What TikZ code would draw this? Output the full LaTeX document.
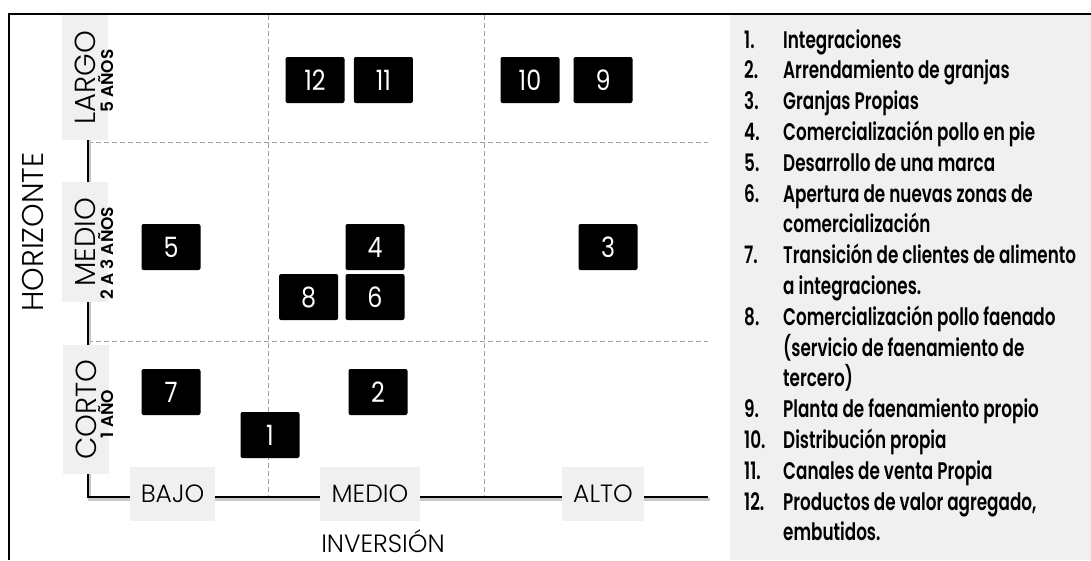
\documentclass[tikz,border=0pt]{standalone}
\usepackage{fontspec}
\setmainfont{Poppins}[UprightFont=* Light, BoldFont=* SemiBold]
\newfontfamily\narrowfont{Poppins}[UprightFont=* Light, BoldFont=* SemiBold, FakeStretch=0.7]
\newfontfamily\digitfont{Poppins}[FakeStretch=0.85]
\usetikzlibrary{positioning}
\definecolor{panelgray}{RGB}{240,240,240}
\definecolor{gridgray}{RGB}{160,160,160}

\begin{document}
\begin{tikzpicture}[
        x=1pt, y=-1pt,
        numbox/.style={
            rectangle, fill=black, rounded corners=2pt,
            minimum width=59pt, minimum height=46pt, inner sep=0pt,
            text=white, font=\digitfont\fontsize{28}{30}\selectfont
        },
        xlabel/.style={
            rectangle, fill=panelgray, minimum height=54pt, inner sep=0pt,
            font=\fontsize{25}{28}\selectfont
        },
        ylabel/.style={
            rectangle, fill=panelgray, rotate=90, minimum height=46pt, inner sep=0pt,
            font=\fontsize{29}{31}\selectfont
        },
        ysub/.style={rotate=90, inner sep=0pt, font=\bfseries\fontsize{17}{19}\selectfont},
        axisline/.style={line width=2.5pt},
        axisshade/.style={line width=2.5pt, draw=black!22},
        gridline/.style={draw=gridgray, line width=0.7pt, dash pattern=on 5pt off 3pt},
        legitem/.style={anchor=west, inner sep=0pt, text height=17pt, text depth=5pt,
            font=\narrowfont\bfseries\fontsize{24}{28}\selectfont}
    ]
    \useasboundingbox (0,0) rectangle (1091,560);

    % frame and legend panel
    \fill[panelgray] (730,15) rectangle (1091,560);
    \draw[line width=1.2pt] (9,560) -- (9,14) -- (1091,14);

    % grid
    \draw[gridline] (268,15) -- (268,500);
    \draw[gridline] (484,15) -- (484,500);
    \draw[gridline] (88,142) -- (708,142);
    \draw[gridline] (88,341) -- (708,341);

    % axes
    \coordinate (ytop) at (88,120);
    \coordinate (corner) at (88,497);
    \coordinate (xend) at (708,497);
    \draw[axisshade] ([shift={(1.5,2.5)}]ytop) -- ([shift={(1.5,2.5)}]corner) -- ([shift={(1.5,2.5)}]xend);
    \draw[axisline] (ytop) -- (corner) -- (xend);

    \node[ylabel, minimum width=125pt] (largo) at (85,77.5) {LARGO};
    \node[ysub] (largosub) at (106,81) {5 AÑOS};
    \node[ylabel, minimum width=120pt] (medioy) at (85,242) {MEDIO};
    \node[ysub] (medioysub) at (106,253) {2 A 3 AÑOS};
    \node[ylabel, minimum width=129pt] (corto) at (86,409.5) {CORTO};
    \node[ysub] (cortosub) at (106,414) {1 AÑO};

    \node[xlabel, minimum width=85pt] (bajo) at (172.5,494) {BAJO};
    \node[xlabel, minimum width=100pt] (mediox) at (370,494) {MEDIO};
    \node[xlabel, minimum width=82pt] (alto) at (603,494) {ALTO};

    \node[rotate=90, font=\fontsize{30}{32}\selectfont] (horizonte) at (33,232) {HORIZONTE};
    \node[font=\fontsize{25}{28}\selectfont] (inversion) at (383,541) {INVERSIÓN};

    % actions
    \node[numbox] (a12) at (315,80) {12};
    \node[numbox, right=9pt of a12] (a11) {11};
    \node[numbox] (a10) at (530,80) {10};
    \node[numbox] (a9) at (603,80) {9};
    \node[numbox] (a5) at (171,247) {5};
    \node[numbox] (a4) at (375,247) {4};
    \node[numbox] (a3) at (608,247) {3};
    \node[numbox] (a6) at (375,297) {6};
    \node[numbox, left=7pt of a6] (a8) {8};
    \node[numbox] (a7) at (171,392) {7};
    \node[numbox] (a2) at (378,392) {2};
    \node[numbox] (a1) at (270,435) {1};

    % legend
    \foreach \k/\num/\txt in {
        0/1./Integraciones,
        1/2./Arrendamiento de granjas,
        2/3./Granjas Propias,
        3/4./Comercialización pollo en pie,
        4/5./Desarrollo de una marca,
        5/6./Apertura de nuevas zonas de,
        6//comercialización,
        7/7./Transición de clientes de alimento,
        8//a integraciones.,
        9/8./Comercialización pollo faenado,
        10//(servicio de faenamiento de,
        11//tercero),
        12/9./Planta de faenamiento propio,
        13/10./Distribución propia,
        14/11./Canales de venta Propia,
        15/12./{Productos de valor agregado,},
        16//embutidos.}{
        \node[legitem] (num\k) at (744,{42+30.8*\k}) {\num};
        \node[legitem] (txt\k) at (783,{42+30.8*\k}) {\txt};
    }
\end{tikzpicture}
\end{document}
